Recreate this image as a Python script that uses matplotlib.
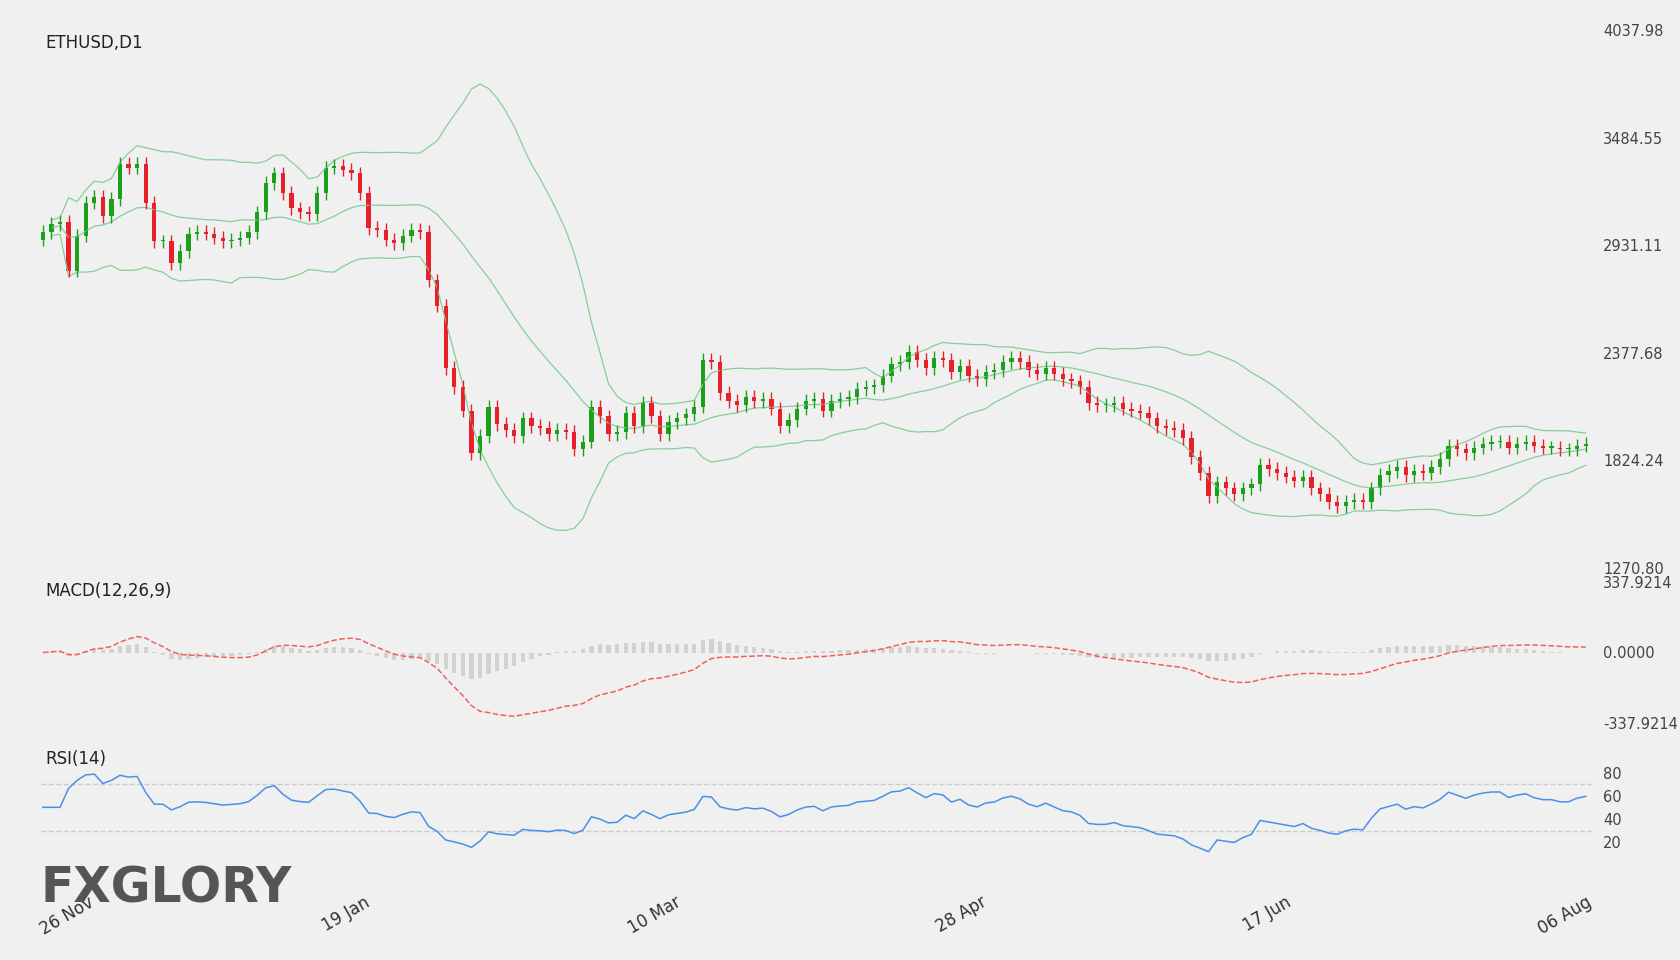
import numpy as np
import pandas as pd
import matplotlib.pyplot as plt
import matplotlib.transforms as mtransforms

# daily closes (weekdays)
closes = [3000, 3040, 3050, 2800, 2980, 3150, 3180, 3080, 3170, 3350, 3330, 3350,
          3150, 2950, 2950, 2840, 2900, 2990, 3000, 2990, 2970, 2950, 2960, 2970,
          3000, 3100, 3250, 3300, 3200, 3120, 3100, 3090, 3200, 3330, 3340, 3320,
          3300, 3200, 3020, 3010, 2960, 2940, 2980, 3010, 3000, 2750, 2620, 2300,
          2200, 2080, 1860, 1950, 2100, 2010, 1980, 1950, 2040, 2000, 1990, 1960,
          1980, 1970, 1880, 1920, 2100, 2050, 1960, 1970, 2070, 2000, 2120, 2050,
          1960, 2020, 2040, 2060, 2100, 2340, 2330, 2170, 2130, 2110, 2150, 2130,
          2140, 2090, 2000, 2030, 2090, 2130, 2140, 2080, 2130, 2140, 2150, 2190,
          2200, 2210, 2260, 2320, 2330, 2380, 2340, 2300, 2350, 2340, 2280, 2310,
          2260, 2240, 2280, 2290, 2330, 2350, 2330, 2290, 2270, 2300, 2270, 2240,
          2230, 2200, 2120, 2110, 2110, 2120, 2090, 2080, 2070, 2040, 2000, 1990,
          1980, 1940, 1840, 1760, 1640, 1710, 1680, 1650, 1680, 1700, 1800, 1780,
          1760, 1740, 1720, 1740, 1680, 1650, 1610, 1590, 1610, 1620, 1610, 1680,
          1750, 1770, 1790, 1750, 1770, 1760, 1790, 1830, 1900, 1880, 1860, 1890,
          1910, 1920, 1920, 1890, 1910, 1920, 1900, 1890, 1890, 1880, 1880, 1900,
          1910]
first_open = 2960
wick = 35

price_ticks = [1270.80, 1824.24, 2377.68, 2931.11, 3484.55, 4037.98]
date_labels = ["26 Nov", "19 Jan", "10 Mar", "28 Apr", "17 Jun", "06 Aug"]
date_idx = [0, 37.5, 73.75, 109.4, 145, 180]

c = pd.Series(closes, dtype=float)
o = c.shift(1).fillna(first_open)
x = np.arange(len(c))

mid = c.rolling(20, min_periods=2).mean()
sd = c.rolling(20, min_periods=2).std(ddof=0)
upper, lower = mid + 2 * sd, mid - 2 * sd

ema12 = c.ewm(span=12, adjust=False).mean()
ema26 = c.ewm(span=26, adjust=False).mean()
macd = ema12 - ema26
signal = macd.ewm(span=9, adjust=False).mean()
hist = macd - signal

delta = c.diff()
gain = delta.clip(lower=0).ewm(alpha=1 / 14, adjust=False).mean()
loss = (-delta.clip(upper=0)).ewm(alpha=1 / 14, adjust=False).mean()
rsi = 100 - 100 / (1 + gain / loss.replace(0, np.nan))
rsi = rsi.fillna(50)

# layout measured in a 1568x896 frame
FW, FH = 1568, 896
bg = "#f0f0f0"
fig = plt.figure(figsize=(16.8, 9.6), dpi=100, facecolor=bg)
L, W = 38 / FW, 1448 / FW
xlim = (-0.25, 180.75)


def panel(top_px, bot_px):
    ax = fig.add_axes([L, 1 - bot_px / FH, W, (bot_px - top_px) / FH])
    ax.set_facecolor(bg)
    for s in ax.spines.values():
        s.set_visible(False)
    ax.set_xlim(*xlim)
    ax.yaxis.tick_right()
    ax.tick_params(axis="y", length=0, labelsize=10.5, labelcolor="#444", pad=8)
    ax.tick_params(axis="x", length=0)
    ax.set_xticks([])
    return ax


# price panel
ax = panel(28, 530)
ax.set_ylim(1270.80, 4037.98)
ax.set_yticks(price_ticks)
ax.set_yticklabels([f"{v:.2f}" for v in price_ticks])
band = "#86cf98"
for s in (upper, mid, lower):
    ax.plot(x, s, color=band, lw=0.9)
up = c >= o
cols = np.where(up, "#1aa01a", "#e8202a")
hi = np.maximum(o, c) + wick
lo = np.minimum(o, c) - wick
ax.vlines(x, lo, hi, colors=cols, lw=1)
ax.bar(x, (c - o).abs().clip(lower=6), bottom=np.minimum(o, c), width=0.5, color=cols)
ax.text(4 / FW / W, 1 - 4 / 502, "ETHUSD,D1", transform=ax.transAxes, fontsize=12,
        color="#222", va="top", ha="left")

# MACD panel
am = panel(543, 675)
am.set_ylim(-337.9214, 337.9214)
am.set_yticks([337.9214, 0, -337.9214])
am.set_yticklabels(["337.9214", "0.0000", "-337.9214"])
am.bar(x, hist, width=0.5, color="#d2d2d2")
am.plot(x, macd, color="#f06060", lw=1.1, ls="--")
am.text(0.003, 1.0, "MACD(12,26,9)", transform=am.transAxes, fontsize=12,
        color="#222", va="top", ha="left")

# RSI panel
ar = panel(700, 800)
ar.set_ylim(7.07, 99.4)
ar.set_yticks([80, 60, 40, 20])
for lvl in (70, 30):
    ar.axhline(lvl, color="#cccccc", lw=1, ls="--")
ar.plot(x, rsi, color="#4a90e8", lw=1.1)
ar.text(0.003, 1.0, "RSI(14)", transform=ar.transAxes, fontsize=12,
        color="#222", va="top", ha="left")
ar.set_xticks(date_idx)
ar.set_xticklabels(date_labels, rotation=30, ha="right", rotation_mode="anchor",
                   fontsize=12, color="#333")
ar.tick_params(axis="x", pad=26)
first = ar.get_xticklabels()[0]
first.set_transform(first.get_transform()
                    + mtransforms.ScaledTranslation(0.45, 0, fig.dpi_scale_trans))

fig.text(38 / FW, 1 - 852 / FH, "FXGLORY", fontsize=35, fontweight="bold",
         color="#555555", ha="left", va="bottom")

fig.savefig("out.png", dpi=100, facecolor=bg)
